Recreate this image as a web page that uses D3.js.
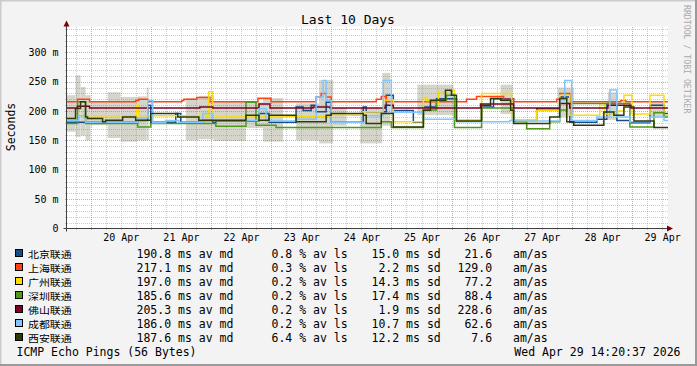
<!DOCTYPE html>
<html>
<head>
<meta charset="utf-8">
<script src="https://cdn.jsdelivr.net/npm/d3@7"></script>
<style>
  html, body { margin: 0; padding: 0; background: #f3f3f3; }
  svg { display: block; }
  text { font-family: "DejaVu Sans Mono", monospace; fill: #000; white-space: pre; }
  .cjk { font-family: "Noto Sans CJK SC", sans-serif; }
</style>
</head>
<body>
<div id="chart"></div>
<script>
// graph ends Wed Apr 29 14:20:37 2026, spans 10 days (240 h)
const START = Date.UTC(2026, 3, 19, 14, 20, 37);
const HOURS = 240;

const targets = ["北京联通", "上海联通", "广州联通", "深圳联通", "佛山联通", "成都联通", "西安联通"];
const colors = ["#154c8a", "#ff4414", "#ffdc00", "#4e9a18", "#7c0024", "#80c6ff", "#2f3a08"];
const medians = ["190.8", "217.1", "197.0", "185.6", "205.3", "186.0", "187.6"];
const losses = ["0.8", "0.3", "0.2", "0.2", "0.2", "0.2", "6.4"];
const sds = ["15.0", "2.2", "14.3", "17.4", "1.9", "10.7", "12.2"];
const amas = ["21.6", "129.0", "77.2", "88.4", "228.6", "62.6", "7.6"];
const yTicks = [0, 50, 100, 150, 200, 250, 300];

// step series: [hour since start, median ms]
const beijing = [[0,181],[28.4,184],[32.4,210],[33.6,181],[43.6,196],[45.6,181],[54.4,184],[58.4,181],[59.6,183],[76.8,196],[80.8,181],[91.6,207],[94.4,201],[97.6,210],[99.6,199],[103.6,215],[105.6,181],[118.4,207],[119.6,199],[127.6,227],[130.4,201],[138.4,181],[142.4,207],[147.6,221],[155.6,184],[165.6,207],[170.4,221],[178.4,184],[187.6,204],[196.8,224],[200.8,181],[211.6,186],[215.6,213],[219.6,184],[224.8,180],[232.8,210],[238.4,196]];
const shanghai = [[0,216],[4.4,220],[9.2,216],[27.6,218],[28.8,220],[32.4,216],[46,218],[46.8,220],[52,223],[57.2,216],[76.4,222],[81.6,216],[99.6,224],[101.6,230],[103.6,224],[105.6,216],[123.6,220],[125.6,225],[127.6,216],[159.6,220],[163.6,225],[174.4,220],[178.4,216],[195.6,220],[196.8,230],[200.8,216],[221.2,218],[223.2,216]];
const guangzhou = [[0,187],[3.6,192],[27.6,194],[28,210],[28.8,192],[52.8,193],[56,191],[56.8,233],[58.4,190],[88,191],[105.6,193],[118.4,199],[126.4,219],[130.4,182],[142.4,223],[143.6,218],[147.6,212],[148.4,233],[151.6,236],[154.8,184],[165.6,230],[177.6,184],[187.6,201],[196.8,227],[200.8,193],[212.8,213],[214.8,195],[220,200],[222.4,227],[225.6,195],[232.8,227],[238.4,193]];
const shenzhen = [[0,179],[4.4,216],[7.6,179],[28.4,173],[33.6,179],[59.6,174],[71.6,215],[75.6,176],[83.6,172],[125.6,182],[129.6,172],[142.4,202],[147.6,219],[151.6,227],[154.8,172],[165.6,205],[178.4,182],[183.6,170],[192.8,182],[196.8,202],[199.6,213],[224.8,173],[234.4,197],[238.4,190]];
const foshan = [[0,205],[4.4,208],[9.2,205],[53.2,207],[58.4,205],[76.8,212],[81.2,205],[98.4,207],[105.2,205],[127.2,210],[130.4,205],[165.2,212],[178.4,205],[196.8,213],[200.8,205],[216,210],[225.2,205]];
const chengdu = [[0,184],[4.8,192],[7.6,181],[28.4,188],[32.4,218],[34.4,180],[39.6,184],[44.8,181],[54.4,196],[58.4,184],[76.8,204],[79.6,183],[91.6,186],[99.6,224],[102.4,252],[103.6,218],[105.6,181],[119.6,192],[126.4,252],[129.6,198],[142.4,186],[155.6,182],[176.8,184],[179.6,183],[196.8,219],[198.8,252],[201.6,184],[211.6,190],[216.8,236],[219.6,190],[224.8,182],[232.8,190],[238.4,184]];
const xian = [[0,187.5],[3.6,204.5],[5.6,216],[7.6,190],[8.4,187.5],[14.4,181.6],[15.6,184.5],[22.4,190],[27.6,184.5],[33.6,196],[44.4,190],[52.8,184.5],[71.6,193],[76.8,184.5],[80.8,193],[91.6,181.6],[103.6,193],[105.6,196],[118.4,193],[119.6,179],[125.6,196],[130.4,173],[142.4,201.5],[145.2,218.6],[151.2,235.6],[153.6,227],[155.6,183],[165.6,210],[169.2,221.5],[173.2,218.6],[177.2,201.5],[178.4,179],[192.8,190],[196.8,221.5],[199.6,181.6],[202.4,176],[214.4,198.6],[218.4,193],[222.4,207],[226.4,183],[234.4,172]];

// smoke band: [hour since start, low ms, high ms] (null = no smoke)
const smoke = [[0,165,227],[3.6,156,261],[5.6,158,241],[7.6,150,227],[9.6,176,216],[16.4,154,232],[21.6,148,224],[28.4,150,225],[32,150,240],[32.8,null,null],[47.6,150,222],[52.8,152,226],[58.8,149,216],[71.6,171,215],[78.4,148,222],[86.4,null,null],[91.6,150,213],[100.8,145,253],[106.4,175,205],[111.6,null,null],[117.2,145,205],[126,175,265],[129.2,null,null],[140,193,245],[154.4,null,null],[173.2,195,245],[178,null,null],[196,190,240],[202.4,null,null],[216,185,232],[220,null,null],[233.2,190,215],[238.4,null,null]];

const seriesList = [beijing, shanghai, guangzhou, shenzhen, foshan, chengdu, xian];

const W = 697, H = 366;
const plot = { left: 66.5, right: 668, top: 26.5, bottom: 228.5 };

const hourDate = (h) => new Date(START + h * 3600e3);
const END = hourDate(HOURS);

const x = d3.scaleUtc().domain([hourDate(0), END]).range([plot.left, plot.right]);
const y = d3.scaleLinear().domain([0, 344]).range([plot.bottom, plot.top]);

const svg = d3.select("#chart").append("svg").attr("width", W).attr("height", H);

// frame
svg.append("rect").attr("x", 0).attr("y", 0).attr("width", W).attr("height", H).attr("fill", "#f3f3f3");
svg.append("path").attr("d", `M0.5,${H} V0.5 H${W}`).attr("stroke", "#cbcbcb").attr("stroke-width", 2).attr("fill", "none");
svg.append("path").attr("d", `M0,${H - 1} H${W - 1} V0`).attr("stroke", "#9a9a9a").attr("stroke-width", 2).attr("fill", "none");

svg.append("rect")
  .attr("x", plot.left).attr("y", plot.top)
  .attr("width", plot.right - plot.left).attr("height", plot.bottom - plot.top)
  .attr("fill", "#fff");

// smoke
const smokeSegs = smoke.map((d, i) => ({
  h0: d[0], h1: i + 1 < smoke.length ? smoke[i + 1][0] : HOURS, lo: d[1], hi: d[2],
})).filter((d) => d.lo != null);

svg.append("g").selectAll("rect").data(smokeSegs).join("rect")
  .attr("x", (d) => x(hourDate(d.h0)))
  .attr("width", (d) => x(hourDate(d.h1)) - x(hourDate(d.h0)))
  .attr("y", (d) => y(d.hi))
  .attr("height", (d) => y(d.lo) - y(d.hi))
  .attr("fill", "#d5d5cb");

// grid
const grid = svg.append("g").attr("shape-rendering", "crispEdges");
const minorY = d3.range(10, 344, 10).filter((v) => v % 50 !== 0);
const majorY = yTicks.filter((v) => v > 0);
const days = d3.utcDay.range(hourDate(0), END);
const minorX = d3.utcHour.every(6).range(hourDate(0), END).filter((d) => d.getUTCHours() !== 0);

grid.selectAll("line.mny").data(minorY).join("line")
  .attr("x1", plot.left - 2).attr("x2", plot.right)
  .attr("y1", (d) => Math.round(y(d)) + 0.5).attr("y2", (d) => Math.round(y(d)) + 0.5)
  .attr("stroke", "rgba(128,128,128,0.4)").attr("stroke-dasharray", "1,1");
grid.selectAll("line.mnx").data(minorX).join("line")
  .attr("y1", plot.top).attr("y2", plot.bottom + 2)
  .attr("x1", (d) => Math.round(x(d)) + 0.5).attr("x2", (d) => Math.round(x(d)) + 0.5)
  .attr("stroke", "rgba(128,128,128,0.4)").attr("stroke-dasharray", "1,1");
grid.selectAll("line.mjy").data(majorY).join("line")
  .attr("x1", plot.left - 2).attr("x2", plot.right)
  .attr("y1", (d) => Math.round(y(d)) + 0.5).attr("y2", (d) => Math.round(y(d)) + 0.5)
  .attr("stroke", "rgba(225,80,80,0.55)").attr("stroke-dasharray", "1,1");
grid.selectAll("line.mjx").data(days).join("line")
  .attr("y1", plot.top).attr("y2", plot.bottom + 2)
  .attr("x1", (d) => Math.round(x(d)) + 0.5).attr("x2", (d) => Math.round(x(d)) + 0.5)
  .attr("stroke", "rgba(225,80,80,0.55)").attr("stroke-dasharray", "1,1");

// median lines
const line = d3.line()
  .x((d) => x(hourDate(d[0])))
  .y((d) => y(d[1]))
  .curve(d3.curveStepAfter);

svg.append("g").selectAll("path").data(seriesList).join("path")
  .attr("d", (s) => line(s.concat([[HOURS, s[s.length - 1][1]]])))
  .attr("fill", "none")
  .attr("stroke", (s, i) => colors[i])
  .attr("stroke-width", 1.5);

// axes
const yAxisG = svg.append("g").attr("transform", `translate(${plot.left},0)`)
  .call(d3.axisLeft(y).tickValues(yTicks).tickSize(0).tickPadding(8)
    .tickFormat((d) => (d === 0 ? "0" : d + " m")));
yAxisG.select(".domain").remove();
yAxisG.selectAll("text").attr("font-family", "DejaVu Sans Mono").attr("font-size", 10).attr("fill", "#000");

const noons = days.map((d) => d3.utcHour.offset(d, 12)).filter((d) => d < END);
const xAxisG = svg.append("g").attr("transform", `translate(0,${plot.bottom})`)
  .call(d3.axisBottom(x).tickValues(noons).tickSize(0).tickPadding(5.5)
    .tickFormat(d3.utcFormat("%d %b")));
xAxisG.select(".domain").remove();
xAxisG.selectAll("text").attr("font-family", "DejaVu Sans Mono").attr("font-size", 10).attr("fill", "#000");

svg.append("line").attr("x1", plot.left).attr("x2", plot.left).attr("y1", plot.bottom + 3).attr("y2", 22)
  .attr("stroke", "#404040").attr("stroke-width", 1);
svg.append("line").attr("x1", plot.left - 3).attr("x2", plot.right + 2).attr("y1", plot.bottom).attr("y2", plot.bottom)
  .attr("stroke", "#404040").attr("stroke-width", 1);
svg.append("path").attr("d", `M${plot.left},20.5 L${plot.left - 3},26.5 L${plot.left + 3},26.5 Z`).attr("fill", "#7f0000");
svg.append("path").attr("d", `M${plot.right + 5},${plot.bottom} L${plot.right - 1},${plot.bottom - 3} L${plot.right - 1},${plot.bottom + 3} Z`).attr("fill", "#7f0000");

// title and side labels
svg.append("text").attr("x", 348).attr("y", 23.5).attr("text-anchor", "middle")
  .attr("font-size", 13).text("Last 10 Days");
svg.append("text").attr("transform", "translate(14.5,127) rotate(-90)").attr("text-anchor", "middle")
  .attr("font-size", 11.5).text("Seconds");
svg.append("text").attr("transform", "translate(684,5) rotate(90)")
  .attr("font-size", 8.2).style("fill", "#aaa").text("RRDTOOL / TOBI OETIKER");

// legend
const legend = svg.append("g");
const rows = legend.selectAll("g").data(targets).join("g")
  .attr("transform", (d, i) => `translate(0,${258 + i * 14})`);
rows.append("rect").attr("x", 15.5).attr("y", -8.5).attr("width", 7).attr("height", 7)
  .attr("fill", (d, i) => colors[i]).attr("stroke", "#000");
// CJK names: smaller font stretched wide so the rows' boxes do not collide
rows.append("text").attr("class", "cjk").attr("transform", "translate(28,-0.5) scale(1.14,1)")
  .attr("font-size", 9.6).text((d) => d);
rows.append("text").attr("x", 136.5).attr("font-size", 11.5).text((d, i) => medians[i] + " ms av md");
rows.append("text").attr("x", 271.5).attr("font-size", 11.5).text((d, i) => losses[i] + " % av ls");
rows.append("text").attr("x", 371.5).attr("font-size", 11.5).text((d, i) => sds[i].padStart(4, " ") + " ms sd");
rows.append("text").attr("x", 457.5).attr("font-size", 11.5).text((d, i) => amas[i].padStart(5, " "));
rows.append("text").attr("x", 513).attr("font-size", 11.5).text("am/as");

svg.append("text").attr("x", 16.5).attr("y", 355.5).attr("font-size", 11.5).text("ICMP Echo Pings (56 Bytes)");
svg.append("text").attr("x", 680.5).attr("y", 355.5).attr("text-anchor", "end").attr("font-size", 11.5)
  .text("Wed Apr 29 14:20:37 2026");
</script>
</body>
</html>
